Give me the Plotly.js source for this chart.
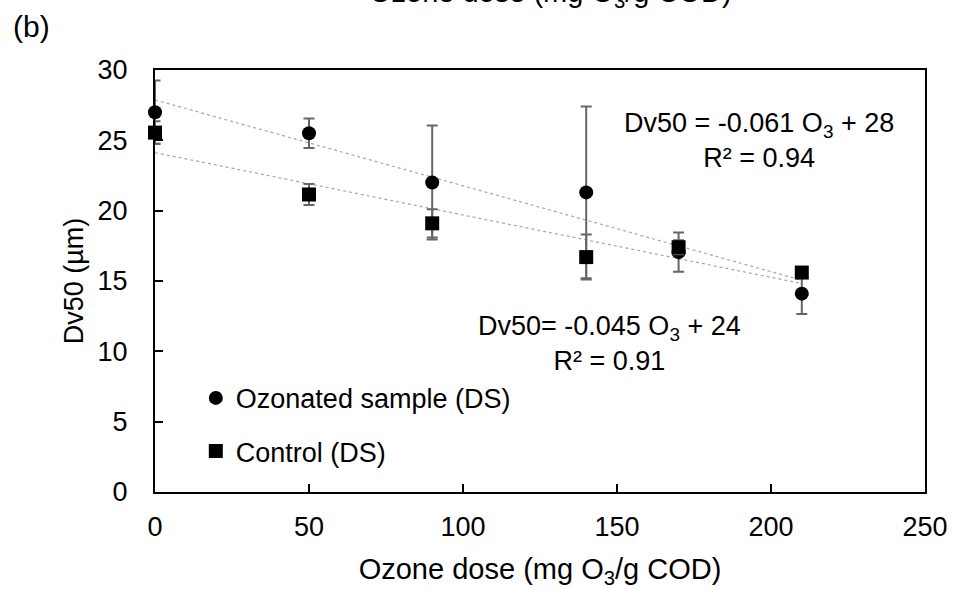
<!DOCTYPE html>
<html><head><meta charset="utf-8">
<script src="https://cdn.plot.ly/plotly-3.0.1.min.js"></script>
<style>html,body{margin:0;padding:0;background:#fff}#chart{width:955px;height:590px}</style>
</head><body><div id="chart"></div>
<script>
const ozoneDose = [0, 50, 90, 140, 170, 210];
const ozonatedDv50 = [27.0, 25.5, 22.0, 21.3, 17.05, 14.1];
const ozonatedErr = [2.25, 1.05, 4.05, 6.1, 1.4, 1.45];
const controlDv50 = [25.55, 21.15, 19.1, 16.7, 17.4, 15.6];
const controlErr = [0.8, 0.75, 1.0, 1.6, 0.5, 0.3];
const seriesNames = ['Ozonated sample (DS)', 'Control (DS)'];
const xTickVals = [0, 50, 100, 150, 200, 250];
const yTickVals = [0, 5, 10, 15, 20, 25, 30];
const eqOzonated = 'Dv50 = -0.061 O<sub>3</sub> + 28<br>R² = 0.94';
const eqControl = 'Dv50= -0.045 O<sub>3</sub> + 24<br>R² = 0.91';

function linFit(x, y) {
  const n = x.length;
  const mx = x.reduce((a, b) => a + b, 0) / n;
  const my = y.reduce((a, b) => a + b, 0) / n;
  let sxy = 0, sxx = 0;
  for (let i = 0; i < n; i++) { sxy += (x[i] - mx) * (y[i] - my); sxx += (x[i] - mx) ** 2; }
  const m = sxy / sxx, b = my - m * mx;
  const xs = [Math.min(...x), Math.max(...x)];
  return { x: xs, y: xs.map(v => m * v + b) };
}
const fitO = linFit(ozoneDose, ozonatedDv50);
const fitC = linFit(ozoneDose, controlDv50);

const FONT = 'Liberation Sans, Arial, sans-serif';
const errStyle = { type: 'data', visible: true, color: '#666666', thickness: 2, width: 5.5 };

const traces = [
  { x: fitO.x, y: fitO.y, mode: 'lines', line: { color: '#a6a6a6', width: 1.2, dash: 'dot' }, showlegend: false, hoverinfo: 'skip' },
  { x: fitC.x, y: fitC.y, mode: 'lines', line: { color: '#a6a6a6', width: 1.2, dash: 'dot' }, showlegend: false, hoverinfo: 'skip' },
  { x: ozoneDose, y: ozonatedDv50, name: seriesNames[0], mode: 'markers', legendgroup: 'a',
    marker: { symbol: 'circle', size: 14, color: '#000' }, cliponaxis: false,
    error_y: Object.assign({ array: ozonatedErr }, errStyle) },
  { x: ozoneDose, y: controlDv50, name: seriesNames[1], mode: 'markers', legendgroup: 'b',
    marker: { symbol: 'square', size: 14, color: '#000' }, cliponaxis: false,
    error_y: Object.assign({ array: controlErr }, errStyle) }
];

const layout = {
  width: 955, height: 590,
  margin: { l: 155, r: 30, t: 70, b: 98 },
  paper_bgcolor: '#fff', plot_bgcolor: '#fff',
  font: { family: FONT, size: 27, color: '#000' },
  showlegend: true,
  legend: { x: 0.053, y: 0.28, xanchor: 'left', yanchor: 'top', bgcolor: 'rgba(0,0,0,0)',
    font: { size: 27, color: '#000' }, traceorder: 'grouped', tracegroupgap: 15, itemwidth: 30 },
  xaxis: {
    range: [0, 250], tickvals: xTickVals, ticks: 'inside', ticklen: 8, tickwidth: 2, tickcolor: '#000',
    showline: true, linecolor: '#000', linewidth: 2, mirror: true, showgrid: false, zeroline: false,
    ticklabelstandoff: 10, tickfont: { size: 27 },
    title: { text: 'Ozone dose (mg O<sub>3</sub>/g COD)', font: { size: 29 }, standoff: 17 }
  },
  yaxis: {
    range: [0, 30], tickvals: yTickVals, ticks: 'inside', ticklen: 8, tickwidth: 2, tickcolor: '#000',
    showline: true, linecolor: '#000', linewidth: 2, mirror: true, showgrid: false, zeroline: false,
    ticklabelstandoff: 20, tickfont: { size: 27 },
    title: { text: 'Dv50 (µm)', font: { size: 27 }, standoff: 6 }
  },
  annotations: [
    { text: eqOzonated, xref: 'paper', yref: 'paper', x: 0.784, y: 0.832, xanchor: 'center', yanchor: 'middle', showarrow: false, font: { size: 27 } },
    { text: eqControl, xref: 'paper', yref: 'paper', x: 0.590, y: 0.353, xanchor: 'center', yanchor: 'middle', showarrow: false, font: { size: 27 } },
    { text: '(b)', xref: 'paper', yref: 'paper', x: -0.161, y: 1.104, xanchor: 'center', yanchor: 'middle', showarrow: false, font: { size: 30 } },
    { text: 'Ozone dose (mg O<sub>3</sub>/g COD)', xref: 'paper', yref: 'paper', x: 0.514, y: 1.133, xanchor: 'center', yanchor: 'bottom', showarrow: false, font: { size: 29 } }
  ]
};

Plotly.newPlot('chart', traces, layout, { displayModeBar: false, staticPlot: true });
</script>
</body></html>
